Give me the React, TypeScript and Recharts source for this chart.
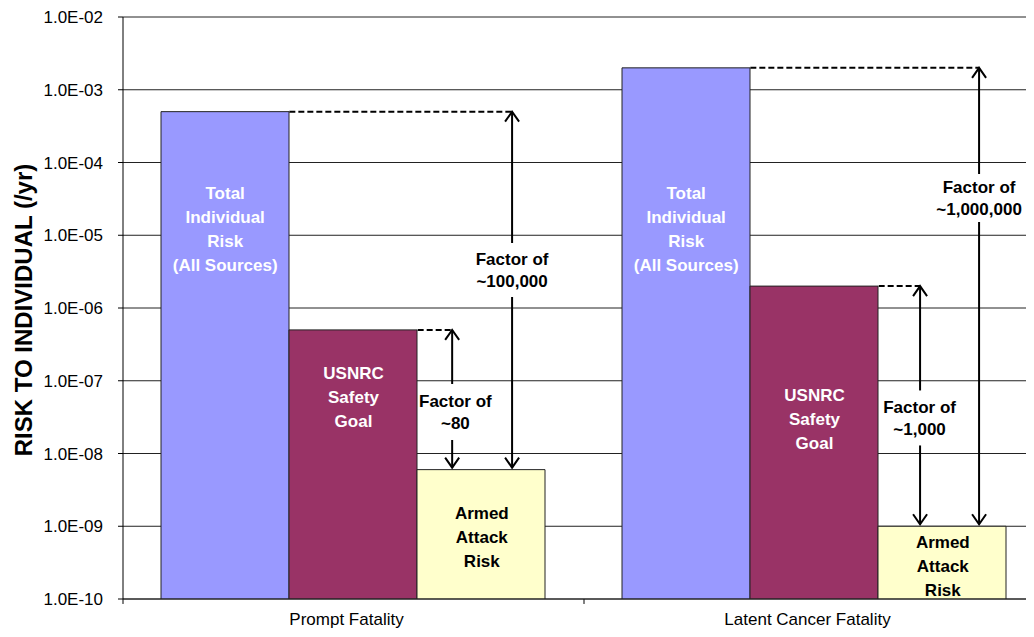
import React from 'react';
import {
  BarChart,
  Bar,
  XAxis,
  YAxis,
  CartesianGrid,
  ReferenceLine,
  ReferenceDot,
  Label,
} from 'recharts';

// values (per year)
const categories = ['Prompt Fatality', 'Latent Cancer Fatality'];
const totalRisk = [5e-4, 2e-3];
const safetyGoal = [5e-7, 2e-6];
const armedAttackRisk = [6e-9, 1e-9];
const yTicks = [1e-10, 1e-9, 1e-8, 1e-7, 1e-6, 1e-5, 1e-4, 1e-3, 1e-2];

const seriesNames = [
  ['Total', 'Individual', 'Risk', '(All Sources)'],
  ['USNRC', 'Safety', 'Goal'],
  ['Armed', 'Attack', 'Risk'],
];
const seriesFill = ['#9999FF', '#993366', '#FFFFCC'];
const seriesText = ['#fff', '#fff', '#000'];
// height (risk value) at which each bar caption is centred, per category
const captionLevels = [
  [1.22e-5, 6e-8, 7.1e-10],
  [1.22e-5, 3e-8, 2.85e-10],
];

const factorTexts = [
  ['Factor of', '~100,000'],
  ['Factor of', '~80'],
  ['Factor of', '~1,000,000'],
  ['Factor of', '~1,000'],
];

const data = categories.map((name, i) => ({
  name,
  total: totalRisk[i],
  goal: safetyGoal[i],
  attack: armedAttackRisk[i],
}));

const FONT = '"Liberation Sans", Arial, sans-serif';
const CHART_W = 1045;
const CHART_H = 637;
const LEFT = 123;
const NCAT = categories.length;
const BAND = (CHART_W - LEFT) / NCAT;
const CAT_GAP = 38;
const GAP_U = CAT_GAP / BAND;
const BAR_U = (1 - 2 * GAP_U) / 3;
// band units (0..NCAT) -> fraction of plot width for the hidden numeric axis
const u = (b: number) => b / NCAT;
const barRight = (cat: number, k: number) => u(cat + GAP_U + (k + 1) * BAR_U);
const barMid = (cat: number, k: number) => u(cat + GAP_U + (k + 0.5) * BAR_U);

// factor arrows: category, which bar they start from, arrow/label position in band units
const factors = [
  { cat: 0, from: 0, ax: 0.844, lx: 0.844, ly: 3.33e-6, w: 80, h: 54, text: factorTexts[0] },
  { cat: 0, from: 1, ax: 0.714, lx: 0.721, ly: 3.72e-8, w: 72, h: 56, text: factorTexts[1] },
  { cat: 1, from: 0, ax: 1.857, lx: 1.857, ly: 3.25e-5, w: 92, h: 48, text: factorTexts[2] },
  { cat: 1, from: 1, ax: 1.729, lx: 1.728, ly: 3.08e-8, w: 72, h: 55, text: factorTexts[3] },
];
const seriesValues = [totalRisk, safetyGoal, armedAttackRisk];

const fmtTick = (v: number) => {
  const e = Math.round(Math.log10(v));
  return `1.0E${e < 0 ? '-' : '+'}${String(Math.abs(e)).padStart(2, '0')}`;
};

const Arrow = (p: any) => {
  const { x1, y1, y2 } = p;
  const top = Math.min(y1, y2);
  const bot = Math.max(y1, y2) - 2;
  return (
    <g stroke="#000" strokeWidth={2} fill="none">
      <line x1={x1} y1={top} x2={x1} y2={bot} />
      <path d={`M${x1 - 7},${top + 10} L${x1},${top} L${x1 + 7},${top + 10}`} />
      <path d={`M${x1 - 7},${bot - 10} L${x1},${bot} L${x1 + 7},${bot - 10}`} />
    </g>
  );
};

const textBlock =
  (lines: string[], color: string, lh: number, box?: { w: number; h: number }) =>
  (p: any) => {
    const { cx, cy } = p;
    return (
      <g>
        {box && (
          <rect x={cx - box.w / 2} y={cy - box.h / 2} width={box.w} height={box.h} fill="#fff" />
        )}
        <text
          textAnchor="middle"
          dominantBaseline="central"
          fontFamily={FONT}
          fontWeight="bold"
          fontSize={17}
          fill={color}
        >
          {lines.map((l, i) => (
            <tspan key={i} x={cx} y={cy + (i - (lines.length - 1) / 2) * lh}>
              {l}
            </tspan>
          ))}
        </text>
      </g>
    );
  };

const CatTick = (p: any) => (
  <text
    x={p.x - 7}
    y={p.y}
    dy={26}
    textAnchor="middle"
    fontFamily={FONT}
    fontSize={17}
    fill="#000"
  >
    {p.payload.value}
  </text>
);

const YTitle = (p: any) => {
  const vb = p.viewBox || { x: 0, y: 17, width: LEFT, height: 582 };
  const x = vb.x + 23;
  const y = vb.y + vb.height / 2 + 2;
  return (
    <text
      x={x}
      y={y}
      transform={`rotate(-90 ${x} ${y})`}
      textAnchor="middle"
      dominantBaseline="central"
      fontFamily={FONT}
      fontWeight="bold"
      fontSize={24}
      fill="#000"
    >
      RISK TO INDIVIDUAL (/yr)
    </text>
  );
};

export default function App() {
  const yMin = yTicks[0];
  const tickEnd = yMin / 1.17;
  return (
    <div style={{ margin: -8, width: 1034, height: 637, overflow: 'hidden', background: '#fff' }}>
      <BarChart
        width={CHART_W}
        height={CHART_H}
        data={data}
        margin={{ top: 17, right: 0, bottom: 0, left: 0 }}
        barCategoryGap={CAT_GAP}
        barGap={0}
      >
        <CartesianGrid vertical={false} stroke="#222" />
        <XAxis
          xAxisId="cat"
          dataKey="name"
          height={38}
          tickLine={false}
          tickSize={0}
          tickMargin={0}
          tick={<CatTick />}
          axisLine={{ stroke: '#222' }}
        />
        <XAxis xAxisId="num" type="number" domain={[0, 1]} allowDataOverflow hide />
        <YAxis
          scale="log"
          type="number"
          domain={[yTicks[0], yTicks[yTicks.length - 1]]}
          ticks={yTicks}
          allowDataOverflow
          width={LEFT}
          tickSize={5}
          tickMargin={15}
          tickFormatter={fmtTick}
          tick={{ fontSize: 17, fill: '#000', fontFamily: FONT }}
          axisLine={{ stroke: '#000' }}
          tickLine={{ stroke: '#000' }}
        >
          <Label content={<YTitle />} />
        </YAxis>
        <Bar xAxisId="cat" dataKey="total" fill={seriesFill[0]} stroke="#222" isAnimationActive={false} />
        <Bar xAxisId="cat" dataKey="goal" fill={seriesFill[1]} stroke="#222" isAnimationActive={false} />
        <Bar xAxisId="cat" dataKey="attack" fill={seriesFill[2]} stroke="#222" isAnimationActive={false} />

        {/* axis tick marks below the plot at category boundaries */}
        {[0, 1, 2].map((b) => (
          <ReferenceLine
            key={`t${b}`}
            xAxisId="num"
            segment={[
              { x: u(b), y: yMin },
              { x: u(b), y: tickEnd },
            ]}
            stroke="#000"
            ifOverflow="visible"
          />
        ))}

        {categories.map((_, c) =>
          seriesNames.map((lines, k) => (
            <ReferenceDot
              key={`cap${c}${k}`}
              xAxisId="num"
              x={barMid(c, k)}
              y={captionLevels[c][k]}
              shape={textBlock(lines, seriesText[k], 24)}
            />
          ))
        )}

        {factors.map((f, i) => {
          const v = seriesValues[f.from][f.cat];
          return (
            <ReferenceLine
              key={`d${i}`}
              xAxisId="num"
              segment={[
                { x: barRight(f.cat, f.from), y: v },
                { x: u(f.ax), y: v },
              ]}
              stroke="#000"
              strokeWidth={2}
              strokeDasharray="6 3"
            />
          );
        })}
        {factors.map((f, i) => (
          <ReferenceLine
            key={`a${i}`}
            xAxisId="num"
            segment={[
              { x: u(f.ax), y: seriesValues[f.from][f.cat] },
              { x: u(f.ax), y: armedAttackRisk[f.cat] },
            ]}
            shape={<Arrow />}
          />
        ))}
        {factors.map((f, i) => (
          <ReferenceDot
            key={`l${i}`}
            xAxisId="num"
            x={u(f.lx)}
            y={f.ly}
            shape={textBlock(f.text, '#000', 22, { w: f.w, h: f.h })}
          />
        ))}
      </BarChart>
    </div>
  );
}
